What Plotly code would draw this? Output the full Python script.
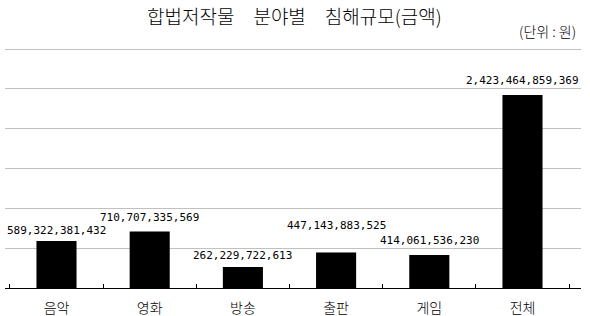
import plotly.graph_objects as go

categories = ["음악", "영화", "방송", "출판", "게임", "전체"]
values = [589322381432, 710707335569, 262229722613, 447143883525, 414061536230, 2423464859369]
label_gaps = [2, 5, 3, 18, 6, 6]  # pixel offsets of value labels above bars

title_text = "합법저작물\u3000분야별\u3000침해규모(금액)"
unit_text = "(단위 : 원)"

fig = go.Figure()
fig.add_trace(go.Bar(
    x=categories, y=values,
    marker=dict(color="black", line=dict(width=0)),
    width=0.43,
    hoverinfo="skip",
))

annotations = []
for c, v, g in zip(categories, values, label_gaps):
    annotations.append(dict(
        x=c, y=v, xref="x", yref="y", text=f"{v:,}",
        showarrow=False, yanchor="bottom", xanchor="center", yshift=g,
        font=dict(family="DejaVu Sans Mono", size=11, color="black"),
    ))
annotations.append(dict(
    x=0.502, y=1.142, xref="paper", yref="paper", text=title_text,
    showarrow=False, xanchor="center", yanchor="middle",
    font=dict(family="Noto Sans CJK KR", size=19, color="black", weight=300),
))
annotations.append(dict(
    x=0.9948, y=1.075, xref="paper", yref="paper", text=unit_text,
    showarrow=False, xanchor="right", yanchor="middle",
    font=dict(family="Noto Sans CJK KR", size=14, color="black", weight=300),
))

fig.update_layout(
    width=590, height=316,
    margin=dict(l=5, r=9, t=49, b=28),
    paper_bgcolor="white", plot_bgcolor="white",
    showlegend=False,
    annotations=annotations,
    shapes=[dict(type="line", xref="paper", yref="paper", x0=0, x1=1,
                 y0=0.998, y1=0.998, line=dict(color="#c0c0c0", width=1.2), layer="below")],
    xaxis=dict(
        showline=True, linecolor="black", linewidth=1,
        ticks="inside", ticklen=4, tickcolor="black", tickwidth=1,
        tickson="boundaries", showgrid=False, automargin=False,
        tickfont=dict(family="Noto Sans CJK KR", size=14, color="black", weight=300),
        ticklabelstandoff=7,
    ),
    yaxis=dict(
        range=[0, 3e12], dtick=5e11, showticklabels=False, automargin=False,
        showgrid=True, gridcolor="#c0c0c0", gridwidth=1,
        zeroline=False, showline=False, ticks="",
    ),
)

fig.write_html("out.html")
